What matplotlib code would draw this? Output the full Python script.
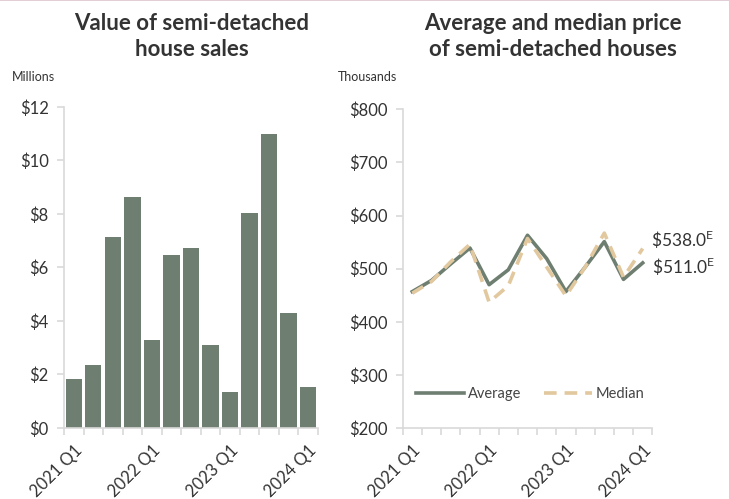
import matplotlib
matplotlib.use('Agg')
import matplotlib.pyplot as plt
import numpy as np
from matplotlib.lines import Line2D

plt.rcParams['font.family'] = ['Lato', 'DejaVu Sans']

quarters = ['2021 Q1', '2021 Q2', '2021 Q3', '2021 Q4',
            '2022 Q1', '2022 Q2', '2022 Q3', '2022 Q4',
            '2023 Q1', '2023 Q2', '2023 Q3', '2023 Q4',
            '2024 Q1']
sales_value = [1.82, 2.37, 7.14, 8.62, 3.28, 6.47, 6.73, 3.09, 1.35, 8.04, 10.99, 4.30, 1.52]
avg_price = [457, 478, 509, 539, 470, 498, 563, 519, 457, 503, 551, 480, 511]
median_price = [454, 476, 513, 546, 437, 468, 557, 503, 449, 503, 567, 484, 538]
shown_ticks = ['2021 Q1', '2022 Q1', '2023 Q1', '2024 Q1']

green = '#6e7f71'
tan = '#e2c89e'
grey_axis = '#d9d9d9'
txt = '#333333'

fig = plt.figure(figsize=(7.29, 4.99), dpi=100)
fig.add_artist(Line2D([0, 1], [0.999, 0.999], color='#dcc5cf', lw=1.2))

x = np.arange(len(quarters))
label_idx = [quarters.index(q) for q in shown_ticks]


def style_axes(ax):
    for s in ['top', 'right']:
        ax.spines[s].set_visible(False)
    for s in ['left', 'bottom']:
        ax.spines[s].set_color(grey_axis)
        ax.spines[s].set_linewidth(1.2)
    ax.set_xlim(-0.5, len(quarters) - 0.5)
    ax.set_xticks(np.arange(-0.5, len(quarters)), minor=False)
    ax.set_xticklabels([])
    ax.tick_params(axis='x', length=5, color=grey_axis, width=1.2)
    ax.tick_params(axis='y', length=5, color=grey_axis, width=1.2,
                   labelsize=12, labelcolor=txt, pad=6)
    ax.set_xticks(label_idx, minor=True)
    ax.set_xticklabels(shown_ticks, minor=True, rotation=45, ha='right',
                       va='top', rotation_mode='anchor', fontsize=12, color=txt)
    ax.tick_params(axis='x', which='minor', length=0, pad=10)


# left: value of sales
ax1 = fig.add_axes([0.0878, 0.1423, 0.3480, 0.6433])
ax1.bar(x, sales_value, width=0.84, color=green)
ax1.set_ylim(0, 12)
ax1.set_yticks(np.arange(0, 13, 2))
ax1.set_yticklabels(['$%d' % v for v in np.arange(0, 13, 2)])
style_axes(ax1)
fig.text(0.016, 0.845, 'Millions', fontsize=9, color=txt, va='center')
fig.text(0.263, 0.926, 'Value of semi-detached\nhouse sales', ha='center', va='center',
         fontsize=16, fontweight='bold', color=txt, linespacing=1.3)

# right: average and median price
ax2 = fig.add_axes([0.5524, 0.1419, 0.3424, 0.6391])
ax2.plot(x, avg_price, color=green, lw=2.6, label='Average')
ax2.plot(x, median_price, color=tan, lw=2.6, dashes=(3.5, 2.2), label='Median')
ax2.set_ylim(200, 800)
ax2.set_yticks(np.arange(200, 801, 100))
ax2.set_yticklabels(['$%d' % v for v in np.arange(200, 801, 100)])
style_axes(ax2)
ax2.annotate('\\$%.1f$^{\\mathregular{E}}$' % median_price[-1], (x[-1], median_price[-1]),
             xytext=(6, 6), textcoords='offset points', fontsize=12.5, color=txt,
             va='center', ha='left')
ax2.annotate('\\$%.1f$^{\\mathregular{E}}$' % avg_price[-1], (x[-1], avg_price[-1]),
             xytext=(7, -3), textcoords='offset points', fontsize=12.5, color=txt,
             va='center', ha='left')
leg = ax2.legend(loc='lower left', bbox_to_anchor=(0.0, 0.045), ncol=2, frameon=False,
                 fontsize=10.5, handlelength=3.3, handletextpad=0.25, columnspacing=1.6)
for t in leg.get_texts():
    t.set_color('#444444')
fig.text(0.463, 0.845, 'Thousands', fontsize=9, color=txt, va='center')
fig.text(0.758, 0.926, 'Average and median price\nof semi-detached houses', ha='center',
         va='center', fontsize=16, fontweight='bold', color=txt, linespacing=1.3)

fig.savefig('out.png', dpi=100)
